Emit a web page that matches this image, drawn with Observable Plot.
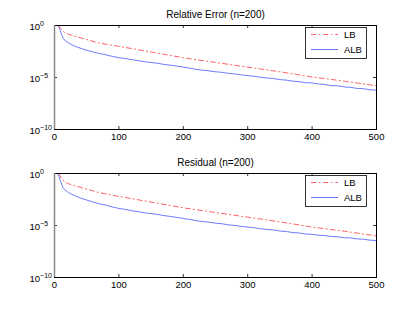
<!DOCTYPE html>
<html><head><meta charset="utf-8">
<script src="https://cdn.jsdelivr.net/npm/d3@7"></script>
<script src="https://cdn.jsdelivr.net/npm/@observablehq/plot@0.6"></script>
<style>body{margin:0;background:#fff;} #chart svg{display:block;}</style>
</head><body><div id="chart"></div>
<script>
// x ticks / y ticks
const xTicks = [0, 100, 200, 300, 400, 500];
const yTicks = [1e-10, 1e-5, 1];
const seriesNames = ["LB", "ALB"];
const titles = ["Relative Error (n=200)", "Residual (n=200)"];

// LB iterations and log10 values
const lbIter = [6, 12, 15, 20, 30, 40, 50, 70, 100, 150, 200, 250, 300, 350, 400, 450, 500];
const relLB  = [0, -0.45, -0.65, -0.8, -1.0, -1.18, -1.35, -1.7, -2.0, -2.55, -3.1, -3.55, -4.0, -4.45, -4.95, -5.35, -5.8];
const resLB  = [0, -0.5, -0.75, -0.95, -1.15, -1.33, -1.5, -1.85, -2.2, -2.75, -3.3, -3.75, -4.2, -4.65, -5.15, -5.55, -6.0];

// ALB iterations and log10 values
const albIter = [5, 7, 9, 11, 13, 15, 20, 25, 30, 40, 50, 60, 70, 80, 90, 100, 110, 120, 130, 140, 150, 160, 170, 180, 190, 200, 210, 220, 230, 240, 250, 260, 270, 280, 290, 300, 310, 320, 330, 340, 350, 360, 370, 380, 390, 400, 410, 420, 430, 440, 450, 460, 470, 480, 490, 500];
const relALB = [0, -0.2, -0.5, -0.85, -1.15, -1.35, -1.6, -1.8, -1.95, -2.18, -2.38, -2.55, -2.7, -2.82, -2.97, -3.1, -3.18, -3.28, -3.38, -3.48, -3.56, -3.63, -3.74, -3.82, -3.9, -4.0, -4.1, -4.22, -4.3, -4.36, -4.45, -4.5, -4.6, -4.66, -4.75, -4.82, -4.88, -4.98, -5.05, -5.1, -5.2, -5.25, -5.36, -5.4, -5.5, -5.53, -5.62, -5.68, -5.78, -5.8, -5.9, -5.95, -6.05, -6.08, -6.18, -6.22];
const resALB = [0, -0.25, -0.7, -1.0, -1.35, -1.5, -1.75, -1.95, -2.1, -2.35, -2.55, -2.75, -2.92, -3.05, -3.22, -3.36, -3.45, -3.58, -3.67, -3.78, -3.86, -3.94, -4.05, -4.13, -4.22, -4.32, -4.42, -4.54, -4.62, -4.68, -4.78, -4.83, -4.94, -4.99, -5.09, -5.15, -5.21, -5.31, -5.38, -5.43, -5.53, -5.58, -5.68, -5.72, -5.82, -5.85, -5.93, -5.97, -6.06, -6.09, -6.17, -6.2, -6.29, -6.32, -6.41, -6.45];

const W = 415, ML = 54, MR = 39, MT = 25, FH = 104;
const FW = W - ML - MR;
const FONT = "'Liberation Sans', Arial, Helvetica, sans-serif";
const RED = "#ff3b3b", BLUE = "#3f4fff";
const LBDASH = "5,3,1.2,3";

function panel(title, lbE, albE, height, marginBottom) {
  const lb = lbIter.map((x, i) => ({x, y: Math.pow(10, lbE[i])}));
  const alb = albIter.map((x, i) => ({x, y: Math.pow(10, albE[i])}));
  const svg = Plot.plot({
    width: W, height, marginTop: MT, marginBottom, marginLeft: ML, marginRight: MR,
    style: {fontFamily: FONT, fontSize: "9px", background: "white", color: "black", overflow: "visible"},
    x: {domain: [0, 500]},
    y: {type: "log", domain: [1e-10, 1]},
    marks: [
      Plot.axisX({ticks: xTicks, tickSize: 0, tickPadding: 4, label: null, fontSize: 9.5}),
      Plot.axisY({ticks: yTicks, tickSize: 0, tickPadding: 0, textAnchor: "start", dx: -25, dy: 1.5, label: null,
        tickFormat: d => "10^" + Math.round(Math.log10(d)), fontSize: 9.5}),
      Plot.line(lb, {x: "x", y: "y", stroke: RED, strokeWidth: 0.8, strokeDasharray: LBDASH, clip: true}),
      Plot.line(alb, {x: "x", y: "y", stroke: BLUE, strokeWidth: 0.75, clip: true}),
      Plot.ruleX(xTicks, {insetTop: FH - 3, stroke: "black", strokeWidth: 0.8}),
      Plot.ruleX(xTicks, {insetBottom: FH - 3, stroke: "black", strokeWidth: 0.8}),
      Plot.ruleY(yTicks, {insetLeft: FW - 3, stroke: "black", strokeWidth: 0.8}),
      Plot.ruleY(yTicks, {insetRight: FW - 3, stroke: "black", strokeWidth: 0.8}),
      Plot.frame({stroke: "black", strokeWidth: 1}),
      Plot.ruleX([0], {stroke: "#888", strokeWidth: 1.5}),
      Plot.text([title], {frameAnchor: "top", dy: -11, lineAnchor: "middle", fontSize: 10, fill: "black"})
    ]
  });
  const s = d3.select(svg);
  // superscript exponents
  s.selectAll('g[aria-label="y-axis tick label"] text').each(function() {
    const t = d3.select(this);
    const m = /^10\^(-?\d+)$/.exec(t.text());
    if (!m) return;
    t.text("10");
    t.append("tspan").attr("dy", "-4").attr("font-size", 7).text(m[1].replace("-", "\u2212"));
  });
  // legend
  const g = s.append("g").attr("font-family", FONT).attr("font-size", 9.5).attr("text-anchor", "start");
  g.append("rect").attr("x", 305.5).attr("y", 27.5).attr("width", 61).attr("height", 31)
    .attr("fill", "white").attr("stroke", "black").attr("stroke-width", 0.8);
  const items = [{name: seriesNames[0], color: RED, dash: LBDASH, y: 34.5}, {name: seriesNames[1], color: BLUE, dash: null, y: 49.5}];
  for (const it of items) {
    g.append("line").attr("x1", 311).attr("x2", 338).attr("y1", it.y).attr("y2", it.y)
      .attr("stroke", it.color).attr("stroke-width", 0.8).attr("stroke-dasharray", it.dash);
    g.append("text").attr("x", 344).attr("y", it.y + 3.4).attr("fill", "black").attr("text-anchor", "start").text(it.name);
  }
  return svg;
}

const root = document.getElementById("chart");
root.appendChild(panel(titles[0], relLB, relALB, 148, 19));
root.appendChild(panel(titles[1], resLB, resALB, 164, 35));
</script>
</body></html>
